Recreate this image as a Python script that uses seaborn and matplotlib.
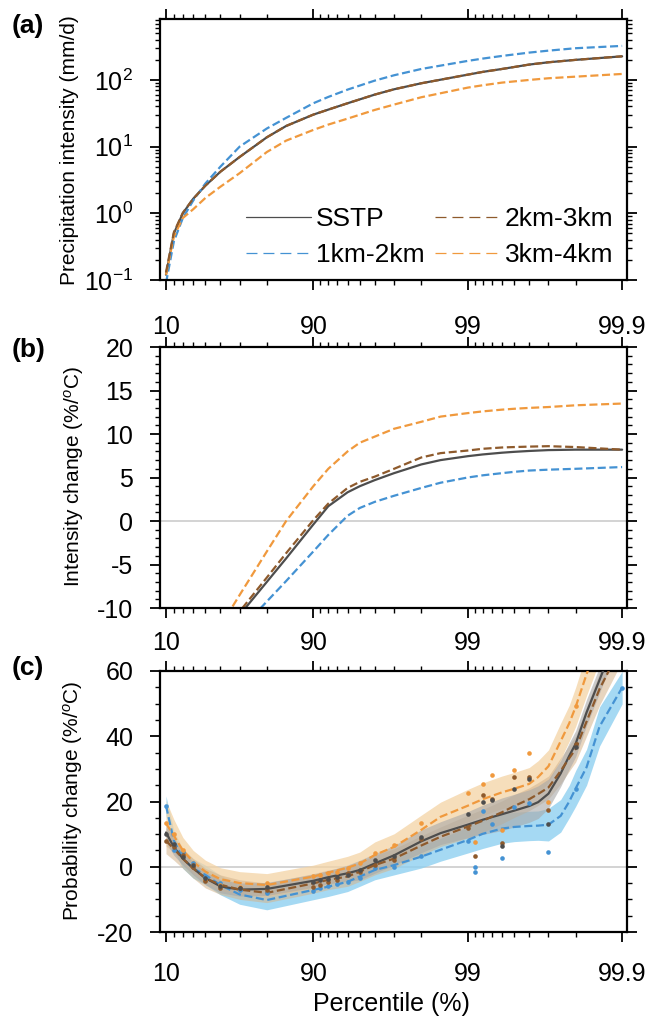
import numpy as np
import pandas as pd
import matplotlib
matplotlib.use("Agg")
import matplotlib.pyplot as plt
import seaborn as sns
from matplotlib.ticker import (FixedLocator, FixedFormatter, NullFormatter,
                               LogLocator, MultipleLocator)
from matplotlib.lines import Line2D

# ---------------- data ----------------
series_names = ["SSTP", "1km-2km", "2km-3km", "3km-4km"]

# (a) precipitation intensity (mm/d)
pct_a = [10, 20, 30, 40, 50, 60, 70, 80, 85, 90, 92, 94, 96, 97, 98, 99, 99.2, 99.4, 99.6, 99.7, 99.8, 99.9]
int_sstp = [0.12, 0.5, 1.0, 1.65, 2.6, 4.2, 7.0, 13.8, 20.4, 30.2, 35.9, 44.7, 60.3, 72.4, 89.1,
            120, 132, 146, 170, 184, 200, 226]
int_1_2 = [0.09, 0.38, 0.85, 1.55, 2.8, 5.0, 10.0, 18.7, 27.0, 44.7, 55.6, 71.6, 97.7, 117.5, 146,
           193, 209, 229, 257, 275, 299, 324]
int_2_3 = [0.13, 0.52, 1.02, 1.65, 2.6, 4.2, 7.0, 13.8, 20.4, 30.2, 35.9, 44.7, 60.3, 72.4, 89.1,
           120, 132, 146, 170, 184, 200, 226]
int_3_4 = [0.12, 0.45, 0.85, 1.15, 1.7, 2.5, 4.0, 8.3, 12.3, 17.8, 21.4, 26.3, 35.5, 42.7, 55,
           76.7, 83.2, 91.2, 100, 106, 112, 123]

# (b) intensity change (%/oC)
pct_b = [60, 70, 80, 85, 90, 92, 94, 95, 96, 97, 98, 98.5, 99, 99.2, 99.4, 99.5, 99.6, 99.7, 99.8, 99.9]
chg_sstp = [-13.5, -10.8, -7.0, -4.3, -0.4, 1.7, 3.3, 4.0, 4.7, 5.5, 6.5, 7.0, 7.45, 7.65, 7.85,
            7.95, 8.05, 8.15, 8.2, 8.2]
chg_1_2 = [-15.0, -12.6, -9.25, -6.9, -3.5, -1.6, 0.6, 1.5, 2.2, 2.9, 3.8, 4.4, 5.0, 5.25, 5.5,
           5.65, 5.8, 5.9, 6.0, 6.2]
chg_2_3 = [-13.2, -10.4, -6.5, -3.7, 0.1, 2.0, 3.8, 4.5, 5.1, 6.0, 7.3, 7.8, 8.1, 8.3, 8.45,
           8.5, 8.55, 8.6, 8.5, 8.2]
chg_3_4 = [-12.1, -8.5, -3.5, 0.0, 4.0, 6.0, 8.0, 9.0, 9.7, 10.6, 11.4, 12.0, 12.4, 12.6, 12.8,
           12.9, 13.0, 13.1, 13.3, 13.5]

# (c) probability change (%/oC): fitted curves, band half-widths, raw points
pct_c = [10, 20, 30, 40, 50, 60, 70, 80, 90, 92, 94, 95, 96, 97, 98, 98.5,
         99, 99.2, 99.4, 99.5, 99.6, 99.65, 99.7, 99.75, 99.78, 99.8, 99.83, 99.86, 99.9]
fit_sstp = [10.5, 6.0, 2.5, -0.5, -3.5, -6.0, -7.0, -6.8, -4.3, -3.2, -2.0, -1.0, 1.0, 3.5, 7.8, 10.3,
            12.9, 14.4, 16.1, 17.2, 18.6, 19.8, 22.4, 28.6, 34.0, 37.7, 47.3, 57.3, 75.0]
fit_1_2 = [18.7, 8.0, 2.5, -0.5, -2.5, -5.6, -8.5, -10.2, -7.1, -6.1, -4.6, -3.0, -1.0, 0.5, 3.1, 5.2,
           8.2, 10.1, 11.7, 12.2, 12.5, 12.6, 12.9, 15.6, 20.0, 24.0, 30.5, 43.0, 54.9]
fit_2_3 = [8.0, 5.5, 2.5, -0.5, -3.5, -5.5, -7.0, -8.0, -5.1, -4.0, -3.0, -1.5, 0.5, 2.5, 6.5, 9.2,
           12.3, 14.1, 16.7, 18.6, 20.7, 22.3, 24.3, 29.4, 33.3, 36.1, 44.5, 54.5, 68.0]
fit_3_4 = [13.3, 9.5, 5.0, 1.5, -1.5, -3.8, -5.0, -5.6, -3.0, -1.8, -0.3, 1.0, 3.6, 6.1, 11.3, 15.3,
           18.7, 20.7, 22.8, 23.9, 25.4, 27.5, 30.8, 38.5, 44.0, 49.0, 59.0, 70.0, 90.0]
band_sstp = [3, 2.5, 2, 2, 2, 2, 2, 2, 2, 2, 2.5, 3, 3, 3, 3.5, 3.5,
             4, 4.5, 5, 5, 5, 5, 4.5, 4, 4, 4, 4, 4, 4]
band_1_2 = [3, 3, 3, 3, 3, 3, 3, 3, 3, 3, 3, 3, 3, 3, 3.5, 3.5,
            4, 4.5, 4.5, 4.5, 4.5, 4.5, 5, 5, 5, 5.5, 5.5, 6, 5]
band_2_3 = [4, 3.5, 3, 3, 3, 3, 3, 3, 3, 3, 3, 3, 3, 3, 3, 3,
            3.5, 3.5, 3.5, 3.5, 3.5, 3.5, 3.5, 4, 4, 4, 4.5, 5, 5]
band_3_4 = [7, 5, 4, 3.5, 3.5, 3.5, 3.5, 3.5, 3.5, 3.5, 3.5, 3.5, 4, 4, 4.5, 4.5,
            5, 5, 5, 5, 5, 5, 5, 5.5, 5.5, 6, 6.5, 7, 8]

pts_sstp_p = [10, 20, 30, 40, 50, 60, 70, 80, 90, 91, 92, 93, 94, 95, 96, 97, 98,
              99, 99.2, 99.3, 99.4, 99.5, 99.6, 99.7, 99.8]
pts_sstp_v = [10.0, 7.0, 3.0, 0.5, -3.5, -6.0, -6.5, -6.1, -4.6, -4.1, -3.8, -3.0, -2.5, -1.0, 2.1, 3.3, 9.0,
              16.3, 19.8, 20.5, 6.5, 23.8, 26.9, 13.2, 36.6]
pts_1_2_p = [10, 20, 30, 40, 50, 60, 70, 80, 90, 91, 92, 93, 94, 95, 96, 97, 98,
             99, 99.1, 99.1, 99.2, 99.3, 99.4, 99.5, 99.6, 99.7, 99.8, 99.9]
pts_1_2_v = [18.7, 5.1, 4.6, 1.3, -3.0, -5.0, -7.0, -8.0, -7.5, -6.6, -6.0, -5.3, -4.6, -3.5, -0.5, 0.0, 3.3,
             8.0, 0.0, -1.7, 17.2, 13.1, 2.7, 18.2, 19.4, 4.4, 23.7, 54.9]
pts_2_3_p = [10, 20, 30, 40, 50, 60, 70, 80, 90, 91, 92, 93, 94, 95, 96, 97, 98,
             99, 99.1, 99.2, 99.3, 99.4, 99.5, 99.6, 99.7, 99.8]
pts_2_3_v = [8.0, 6.1, 3.6, 0.0, -4.5, -6.6, -6.5, -7.1, -6.1, -5.5, -4.6, -4.0, -2.0, -1.5, 0.5, 2.1, 8.4,
             11.8, 3.2, 22.0, 20.7, 7.2, 27.5, 27.6, 17.3, 37.6]
pts_3_4_p = [10, 20, 30, 40, 50, 60, 70, 80, 90, 91, 92, 93, 94, 95, 96, 97, 98,
             99, 99.1, 99.2, 99.3, 99.4, 99.5, 99.6, 99.7, 99.8]
pts_3_4_v = [13.3, 10.0, 5.0, 0.5, -4.1, -5.5, -6.3, -4.9, -2.8, -2.5, -2.0, -1.5, -0.5, 1.0, 4.1, 6.7, 13.3,
             22.6, 7.7, 25.3, 28.1, 11.4, 29.6, 34.9, 19.8, 49.3]

xticks_major = [10, 90, 99, 99.9]
xtick_labels = ["10", "90", "99", "99.9"]
xticks_minor = [20, 30, 40, 50, 60, 70, 80, 91, 92, 93, 94, 95, 96, 97, 98,
                99.1, 99.2, 99.3, 99.4, 99.5, 99.6, 99.7, 99.8]

# ---------------- style ----------------
colors = {"SSTP": "#4d4d4d", "1km-2km": "#4492d3", "2km-3km": "#8e5a2c", "3km-4km": "#f0993d"}
band_colors = {"SSTP": "#a8a8a8", "1km-2km": "#8fd0f0", "2km-3km": "#d4b48c", "3km-4km": "#f4d3a4"}
dash = (0, (5.8, 2.6))

sns.set_theme(style="ticks")
plt.rcParams["font.family"] = ["Liberation Sans", "DejaVu Sans"]
plt.rcParams["mathtext.fontset"] = "custom"
plt.rcParams["mathtext.rm"] = "Liberation Sans"
plt.rcParams["mathtext.it"] = "Liberation Sans:italic"
plt.rcParams["mathtext.bf"] = "Liberation Sans:bold"
plt.rcParams["axes.unicode_minus"] = False
plt.rcParams["lines.scale_dashes"] = False
for k in ["text.color", "axes.labelcolor", "xtick.color", "ytick.color", "axes.edgecolor"]:
    plt.rcParams[k] = "black"


def fwd(p):
    p = np.asarray(p, dtype=float)
    return -np.log10(np.clip(100.0 - p, 1e-6, None))


def inv(t):
    return 100.0 - 10.0 ** (-np.asarray(t, dtype=float))


W, H = 649, 1019
fig = plt.figure(figsize=(W / 100, H / 100), dpi=100)
left, right = 160 / W, 627 / W


def make_ax(top_px, bot_px):
    return fig.add_axes([left, 1 - bot_px / H, right - left, (bot_px - top_px) / H])


axA = make_ax(19, 280)
axB = make_ax(347, 608)
axC = make_ax(671, 932)


def style_x(ax, pad):
    ax.set_xscale("function", functions=(fwd, inv))
    ax.set_xlim(1.6, 99.907)
    ax.xaxis.set_major_locator(FixedLocator(xticks_major))
    ax.xaxis.set_major_formatter(FixedFormatter(xtick_labels))
    ax.xaxis.set_minor_locator(FixedLocator(xticks_minor))
    ax.xaxis.set_minor_formatter(NullFormatter())
    ax.tick_params(axis="both", which="both", direction="out", top=True, right=True,
                   colors="black", labelsize=18)
    ax.tick_params(axis="both", which="major", length=7.2, width=1.3)
    ax.tick_params(axis="both", which="minor", length=3.6, width=1.0)
    ax.tick_params(axis="x", which="major", pad=pad)
    ax.tick_params(axis="y", which="major", pad=12)
    for s in ax.spines.values():
        s.set_linewidth(1.6)
        s.set_color("black")
    ax.set_xlabel("")
    ax.set_ylabel("")


# ---------------- (a) ----------------
dfa = pd.DataFrame({"p": pct_a, "SSTP": int_sstp, "1km-2km": int_1_2,
                    "2km-3km": int_2_3, "3km-4km": int_3_4})
for name in ["SSTP", "1km-2km", "3km-4km", "2km-3km"]:
    sns.lineplot(data=dfa, x="p", y=name, ax=axA, color=colors[name], lw=1.6,
                 linestyle="-" if name == "SSTP" else dash, estimator=None, sort=False)
axA.set_yscale("log")
axA.set_ylim(0.1, 820)
axA.yaxis.set_major_locator(LogLocator(base=10, numticks=10))
axA.yaxis.set_minor_locator(LogLocator(base=10, subs=np.arange(2, 10), numticks=20))
axA.yaxis.set_minor_formatter(NullFormatter())
style_x(axA, pad=18)

handles = [Line2D([], [], color=colors[n], lw=0.9,
                  linestyle="-" if n == "SSTP" else (0, (7.9, 4.3))) for n in series_names]
axA.legend(handles, series_names, ncol=2, frameon=False, fontsize=19,
           loc="upper left", bbox_to_anchor=(246 / W, 1 - 207 / H),
           bbox_transform=fig.transFigure, borderpad=0, borderaxespad=0,
           handlelength=2.46, handletextpad=0.2, columnspacing=0.38, labelspacing=0.45)

# ---------------- (b) ----------------
dfb = pd.DataFrame({"p": pct_b, "SSTP": chg_sstp, "1km-2km": chg_1_2,
                    "2km-3km": chg_2_3, "3km-4km": chg_3_4})
axB.axhline(0, color="#cccccc", lw=1.2, zorder=0)
for name in ["3km-4km", "1km-2km", "SSTP", "2km-3km"]:
    sns.lineplot(data=dfb, x="p", y=name, ax=axB, color=colors[name], lw=1.6,
                 linestyle="-" if name == "SSTP" else dash, estimator=None, sort=False)
axB.set_ylim(-10, 20)
axB.yaxis.set_major_locator(MultipleLocator(5))
axB.yaxis.set_minor_locator(MultipleLocator(1))
style_x(axB, pad=9.4)

# ---------------- (c) ----------------
fits = {"SSTP": fit_sstp, "1km-2km": fit_1_2, "2km-3km": fit_2_3, "3km-4km": fit_3_4}
bands = {"SSTP": band_sstp, "1km-2km": band_1_2, "2km-3km": band_2_3, "3km-4km": band_3_4}
pts = {"SSTP": (pts_sstp_p, pts_sstp_v), "1km-2km": (pts_1_2_p, pts_1_2_v),
       "2km-3km": (pts_2_3_p, pts_2_3_v), "3km-4km": (pts_3_4_p, pts_3_4_v)}

axC.axhline(0, color="#cccccc", lw=1.2, zorder=0)
for name, a in [("1km-2km", 0.8), ("3km-4km", 0.75), ("2km-3km", 0.55), ("SSTP", 0.6)]:
    f = np.array(fits[name])
    b = np.array(bands[name])
    axC.fill_between(pct_c, f - b, f + b, color=band_colors[name], alpha=a, lw=0, zorder=1)
dfc = pd.DataFrame({"p": pct_c, **fits})
for name in ["1km-2km", "3km-4km", "SSTP", "2km-3km"]:
    sns.lineplot(data=dfc, x="p", y=name, ax=axC, color=colors[name], lw=1.6,
                 linestyle="-" if name == "SSTP" else dash, estimator=None, sort=False,
                 zorder=3)
for name in ["1km-2km", "3km-4km", "2km-3km", "SSTP"]:
    px, pv = pts[name]
    sns.scatterplot(x=px, y=pv, ax=axC, color=colors[name], s=11, linewidth=0, zorder=4)
axC.set_ylim(-20, 60)
axC.yaxis.set_major_locator(MultipleLocator(20))
axC.yaxis.set_minor_locator(MultipleLocator(5))
style_x(axC, pad=14.2)

# ---------------- text ----------------
fig.text(70 / W, 1 - 150 / H, "Precipitation intensity (mm/d)", rotation=90,
         ha="center", va="center", fontsize=15)
fig.text(74 / W, 1 - 477 / H, "Intensity change (%/$^{o}$C)", rotation=90,
         ha="center", va="center", fontsize=15)
fig.text(73 / W, 1 - 801 / H, "Probability change (%/$^{o}$C)", rotation=90,
         ha="center", va="center", fontsize=15)
fig.text(391 / W, 1 - 1011 / H, "Percentile (%)", ha="center", va="baseline", fontsize=18)
for lab, yc in [("(a)", 26), ("(b)", 350), ("(c)", 668)]:
    fig.text(12 / W, 1 - yc / H, lab, ha="left", va="center", fontsize=19, fontweight="bold")

fig.savefig("out.png", dpi=100)
